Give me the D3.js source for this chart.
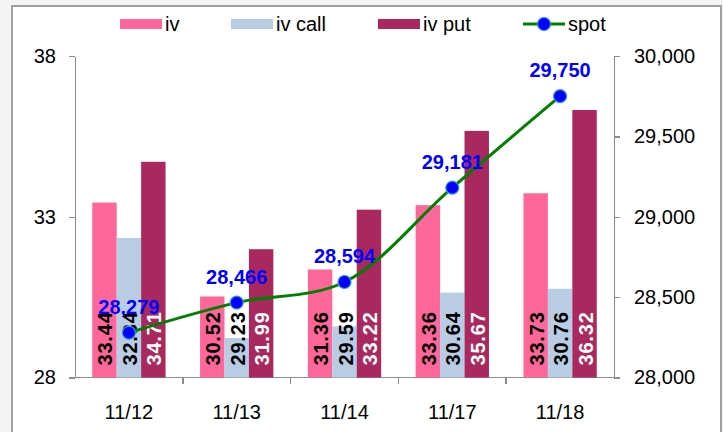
<!DOCTYPE html>
<html>
<head>
<meta charset="utf-8">
<style>
body {margin:0; background:#f4f4f4;}
svg text {font-family:Arial,'Liberation Sans',sans-serif;}
.axis path,.axis line {stroke:#8c8c8c; stroke-width:1.5; shape-rendering:crispEdges;}
.axis text {font-size:20px; fill:#000;}
</style>
<script src="https://d3js.org/d3.v7.min.js"></script>
</head>
<body>
<svg id="chart" width="723" height="432"></svg>
<script>
var dates=['11/12','11/13','11/14','11/17','11/18'];
var iv=[33.44,30.52,31.36,33.36,33.73];
var ivCall=[32.34,29.23,29.59,30.64,30.76];
var ivPut=[34.71,31.99,33.22,35.67,36.32];
var spot=[28279,28466,28594,29181,29750];
var leftTicks=[28,33,38];
var rightTicks=[28000,28500,29000,29500,30000];
var seriesNames=['iv','iv call','iv put'];
var seriesColors=['#ff6699','#b8cce4','#a9295f'];
var labelColors=['#000','#000','#fff'];

var svg=d3.select('#chart');
var pLeft=75,pRight=614,pTop=56,pBottom=377.5;

svg.append('rect').attr('x',12).attr('y',6).attr('width',709).attr('height',440)
   .attr('fill','#fff').attr('stroke','#a0a0a0').attr('stroke-width',2);

var x=d3.scaleBand().domain(dates).range([pLeft,pRight]).padding(0);
var groupW=x.bandwidth()*0.68;
var x1=d3.scaleBand().domain(seriesNames).range([0,groupW]).padding(0);
var yL=d3.scaleLinear().domain([28,38]).range([pBottom,pTop]);
var yR=d3.scaleLinear().domain([28000,30000]).range([pBottom,pTop]);

var table=dates.map(function(d,i){
  return {date:d,vals:[iv[i],ivCall[i],ivPut[i]],spot:spot[i]};});

// axes
svg.append('g').attr('class','axis').attr('transform','translate('+pLeft+',0)')
   .call(d3.axisLeft(yL).tickValues(leftTicks).tickSize(6).tickSizeOuter(0).tickPadding(13));
svg.append('g').attr('class','axis').attr('transform','translate('+pRight+',0)')
   .call(d3.axisRight(yR).tickValues(rightTicks).tickSize(6).tickSizeOuter(0).tickPadding(14)
   .tickFormat(d3.format(',')));
var xa=svg.append('g').attr('class','axis').attr('transform','translate(0,'+pBottom+')');
xa.append('line').attr('x1',pLeft).attr('x2',pRight).attr('y1',0).attr('y2',0);
xa.selectAll('.tk').data(dates.slice(1)).enter().append('line')
  .attr('x1',function(d){return x(d);}).attr('x2',function(d){return x(d);})
  .attr('y1',0).attr('y2',6);
xa.selectAll('text').data(dates).enter().append('text')
  .attr('x',function(d){return x(d)+x.bandwidth()/2;}).attr('y',41)
  .attr('text-anchor','middle').text(function(d){return d;});

// bars
var groups=svg.selectAll('.grp').data(table).enter().append('g')
  .attr('transform',function(d){return 'translate('+(x(d.date)+(x.bandwidth()-groupW)/2)+',0)';});
groups.selectAll('rect').data(function(d){return d.vals;}).enter().append('rect')
  .attr('x',function(v,j){return x1(seriesNames[j]);})
  .attr('width',x1.bandwidth())
  .attr('y',function(v){return yL(v);})
  .attr('height',function(v){return pBottom-yL(v);})
  .attr('fill',function(v,j){return seriesColors[j];});
groups.selectAll('text').data(function(d){return d.vals;}).enter().append('text')
  .attr('transform',function(v,j){
     return 'translate('+(x1(seriesNames[j])+x1.bandwidth()/2+1)+','+(pBottom-12)+') rotate(-90)';})
  .attr('dominant-baseline','central')
  .style('font-size','20px').style('font-weight','bold').style('letter-spacing','0.8px')
  .attr('fill',function(v,j){return labelColors[j];})
  .text(function(v){return v.toFixed(2);});

// spot line
var cx=function(d){return x(d.date)+x.bandwidth()/2;};
var line=d3.line().curve(d3.curveCatmullRom.alpha(0.5))
  .x(cx).y(function(d){return yR(d.spot);});
svg.append('path').datum(table).attr('d',line)
   .attr('fill','none').attr('stroke','#008000').attr('stroke-width',3);
svg.selectAll('.dot').data(table).enter().append('circle')
   .attr('cx',cx).attr('cy',function(d){return yR(d.spot);}).attr('r',6.5)
   .attr('fill','#0000ff').attr('stroke','#3399cc').attr('stroke-width',1.2);
svg.selectAll('.sl').data(table).enter().append('text')
   .attr('x',cx).attr('y',function(d){return yR(d.spot)-19;})
   .attr('text-anchor','middle').attr('fill','#0000ff')
   .style('font-size','20px').style('font-weight','bold')
   .text(function(d){return d3.format(',')(d.spot);});

// legend
var leg=[{n:'iv',x:120},{n:'iv call',x:231},{n:'iv put',x:378}];
leg.forEach(function(l,i){
  svg.append('rect').attr('x',l.x).attr('y',19).attr('width',42).attr('height',10)
     .attr('fill',seriesColors[i]);
  svg.append('text').attr('x',l.x+45).attr('y',31).style('font-size','20px').text(l.n);
});
svg.append('line').attr('x1',523).attr('x2',565).attr('y1',24).attr('y2',24)
   .attr('stroke','#008000').attr('stroke-width',3);
svg.append('circle').attr('cx',544).attr('cy',24).attr('r',6.5)
   .attr('fill','#0000ff').attr('stroke','#3399cc').attr('stroke-width',1.2);
svg.append('text').attr('x',568).attr('y',31).style('font-size','20px').text('spot');
</script>
</body>
</html>
